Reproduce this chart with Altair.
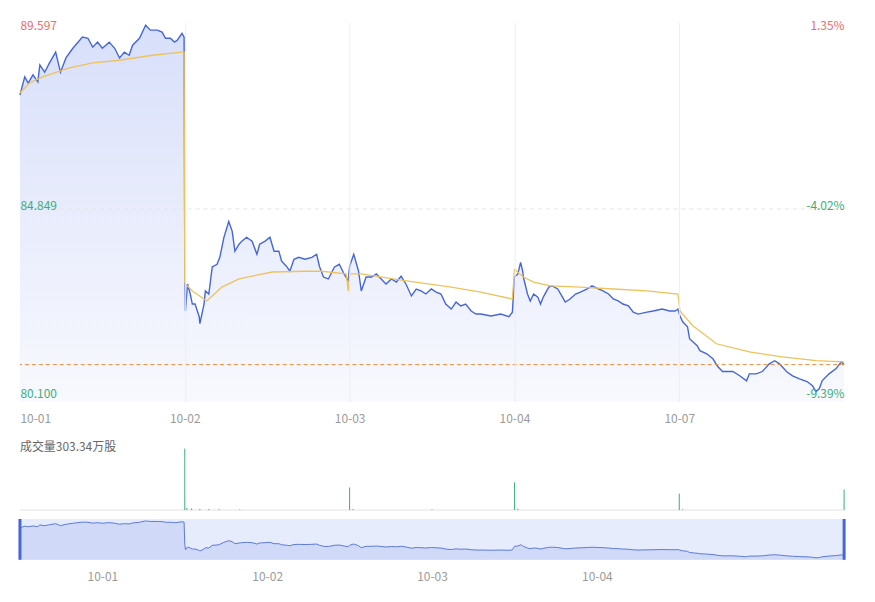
import json
import altair as alt
import pandas as pd

# ---------------- data ----------------
days = ["10-01", "10-02", "10-03", "10-04", "10-07"]
day_start = [0, 240, 480, 720, 960]
nav_days = ["10-01", "10-02", "10-03", "10-04"]
nav_ticks = [120, 360, 600, 840]
price_ticks = [80.100, 84.849, 89.597]
pct_labels = ["-9.39%", "-4.02%", "1.35%"]
pre_close = 88.40
volume_title = ["成交量303.34万股"]

price_t = [0, 7, 12, 19, 26, 29, 36, 43, 52, 59, 67, 77, 91, 99, 106, 113, 120, 130, 138, 145,
           152, 159, 164, 174, 183, 190, 200, 207, 212, 219, 225, 229, 236, 239,
           240, 241, 244, 248, 251, 255, 261, 262, 268, 270, 275, 280, 287, 291, 297, 304,
           309, 313, 319, 323, 330, 338, 345, 349, 357, 364, 370, 377, 381, 388, 393, 399,
           406, 415, 425, 432, 436, 442, 449, 458, 465, 472, 478,
           480, 486, 493, 497, 504, 512, 519, 526, 533, 541, 548, 555, 562, 570, 577, 584,
           591, 599, 606, 613, 620, 628, 635, 642, 649, 657, 664, 671, 686, 700, 712, 717,
           720, 725, 729, 732, 733, 739, 743, 748, 754, 758, 762, 770, 775, 783, 790, 794,
           801, 809, 816, 826, 833, 842, 849, 857, 864, 871, 878, 886, 893, 900, 913, 922,
           935, 946, 954, 958,
           961, 965, 972, 975, 986, 990, 1000, 1009, 1016, 1023, 1038, 1048, 1058, 1062,
           1072, 1081, 1091, 1099, 1106, 1116, 1125, 1135, 1146, 1154, 1159, 1164, 1168,
           1178, 1188, 1196, 1200]
price_v = [87.79, 88.26, 88.10, 88.31, 88.13, 88.57, 88.38, 88.62, 88.90, 88.38, 88.75, 89.00,
           89.29, 89.26, 89.03, 89.16, 89.00, 89.16, 89.00, 88.75, 88.90, 88.82, 89.08, 89.26,
           89.597, 89.47, 89.47, 89.42, 89.26, 89.26, 89.16, 89.21, 89.39, 89.29,
           83.61, 82.19, 82.89, 82.63, 82.37, 82.37, 82.04, 81.86, 82.37, 82.71, 82.63, 83.33,
           83.40, 83.58, 84.10, 84.51, 84.26, 83.74, 83.92, 84.00, 84.10, 84.00, 83.66, 83.92,
           84.00, 84.10, 83.74, 83.74, 83.48, 83.35, 83.22, 83.53, 83.58, 83.53, 83.58, 83.66,
           83.35, 83.07, 83.02, 83.33, 83.40, 83.15, 82.97,
           83.35, 83.66, 83.22, 82.71, 83.07, 83.07, 83.15, 83.02, 82.89, 83.02, 82.94, 83.09,
           82.89, 82.58, 82.76, 82.71, 82.63, 82.76, 82.68, 82.63, 82.37, 82.24, 82.42, 82.32,
           82.37, 82.19, 82.11, 82.11, 82.06, 82.11, 82.04, 82.16,
           83.07, 83.15, 83.45, 83.22, 83.07, 82.63, 82.45, 82.63, 82.55, 82.37, 82.55, 82.81,
           82.84, 82.76, 82.55, 82.42, 82.50, 82.63, 82.68, 82.76, 82.84, 82.76, 82.71, 82.63,
           82.50, 82.45, 82.37, 82.32, 82.16, 82.11, 82.16, 82.19, 82.24, 82.19, 82.19, 82.24,
           82.06, 81.91, 81.78, 81.47, 81.29, 81.16, 81.08, 80.95, 80.75, 80.62, 80.62, 80.51,
           80.38, 80.56, 80.56, 80.62, 80.82, 80.90, 80.82, 80.62, 80.51, 80.43, 80.36, 80.25,
           80.10, 80.18, 80.38, 80.56, 80.69, 80.87, 80.80]

avg_t = [0, 14, 33, 72, 106, 145, 193, 236, 239,
         240, 241, 251, 272, 283, 294, 319, 345, 367, 415, 439, 475, 478,
         480, 497, 555, 628, 671, 717,
         720, 733, 748, 772, 816, 864, 913, 958,
         961, 980, 990, 1014, 1062, 1110, 1159, 1200]
avg_v = [87.84, 88.10, 88.26, 88.49, 88.62, 88.69, 88.82, 88.90, 88.90,
         82.96, 82.89, 82.71, 82.45, 82.63, 82.81, 83.02, 83.12, 83.20, 83.22, 83.22, 83.15, 82.71,
         83.15, 83.15, 82.99, 82.81, 82.68, 82.50,
         83.27, 83.07, 82.94, 82.84, 82.81, 82.76, 82.71, 82.63,
         82.19, 81.80, 81.67, 81.34, 81.13, 81.00, 80.90, 80.87]

vol_t = [240, 243, 250, 262, 275, 290, 320, 480, 485, 600, 720, 725, 960, 965, 1200]
vol_v = [60, 2, 1.5, 1, 1, 0.8, 0.6, 22, 1, 0.6, 27, 1.2, 16, 0.8, 20]

nav_range = [0, 1200]

# ---------------- styling ----------------
FONT = "Noto Sans CJK SC"
RED = "#ef6a6a"
GREEN = "#3aae78"
BLUE = "#4466d9"
GOLD = "#eec25b"
GRAY = "#9a9a9a"

PRICE_DOMAIN = [79.842, 89.674]
NAV_DOMAIN = [79.6, 90.1]

price_df = pd.DataFrame({"t": price_t, "v": price_v})
avg_df = pd.DataFrame({"t": avg_t, "v": avg_v})
last_df = pd.DataFrame({"v": [price_v[-1]]})
vol_df = pd.DataFrame({"t": vol_t, "vol": vol_v})
base_df = pd.DataFrame({"vol": [0]})
title_df = pd.DataFrame({"label": volume_title})
range_df = pd.DataFrame({"t": [nav_range[0]], "end": [nav_range[1]]})
handle_df = pd.DataFrame({"t": nav_range})

hi_cut = (price_ticks[1] + price_ticks[2]) / 2
lo_cut = (price_ticks[0] + price_ticks[1]) / 2
color_expr = f"datum.value > {pre_close} ? '{RED}' : '{GREEN}'"
pct_expr = (f"datum.value > {hi_cut} ? '{pct_labels[2]}' : "
            f"datum.value > {lo_cut} ? '{pct_labels[1]}' : '{pct_labels[0]}'")
offset_expr = f"datum.value > {hi_cut} ? 0 : datum.value > {lo_cut} ? -3 : 2"

x_scale = alt.Scale(domain=[0, 1200], nice=False, zero=False)
price_scale = alt.Scale(domain=PRICE_DOMAIN, nice=False, zero=False)

x_main = alt.X(
    "t:Q", scale=x_scale,
    axis=alt.Axis(values=day_start, labelExpr=f"{json.dumps(days)}[round(datum.value / 240)]",
                  labelAlign={"expr": "datum.value == 0 ? 'left' : 'center'"},
                  ticks=False, domain=False, labelPadding=12, labelColor=GRAY,
                  labelFontSize=12, grid=True, gridColor="#eeeeee",
                  gridOpacity={"expr": "datum.value == 0 ? 0 : 1"}, title=None, zindex=1),
)
y_left = alt.Y(
    "v:Q", scale=price_scale,
    axis=alt.Axis(values=price_ticks, labelExpr="format(datum.value, '.3f')", orient="left",
                  labelAlign="left", labelBaseline="middle", labelPadding=0, ticks=False,
                  tickSize=0, domain=False, labelColor={"expr": color_expr}, labelFontSize=12,
                  labelOffset={"expr": offset_expr},
                  minExtent=0, grid=True, gridColor="#e6e6e6", gridDash=[4, 4],
                  gridOpacity={"expr": f"abs(datum.value - {price_ticks[1]}) < 0.01 ? 1 : 0"},
                  title=None, zindex=1),
)
y_right = alt.Y(
    "v:Q", scale=price_scale,
    axis=alt.Axis(values=price_ticks, labelExpr=pct_expr, orient="right", labelAlign="right",
                  labelBaseline="middle", labelPadding=0, ticks=False, tickSize=0, domain=False,
                  labelColor={"expr": color_expr}, labelFontSize=12, minExtent=0, grid=False,
                  labelOffset={"expr": offset_expr}, title=None, zindex=1),
)

gradient = alt.Gradient(
    gradient="linear",
    stops=[alt.GradientStop(color="#d8dffa", offset=0),
           alt.GradientStop(color="#f8f9fe", offset=1)],
    x1=1, x2=1, y1=0, y2=1,
)

area = alt.Chart(price_df).mark_area(fill=gradient).encode(
    x=x_main, y=y_left, y2=alt.datum(PRICE_DOMAIN[0]))
line = alt.Chart(price_df).mark_line(color=BLUE, strokeWidth=1.4).encode(x=x_main, y=y_left)
avg = alt.Chart(avg_df).mark_line(color=GOLD, strokeWidth=1.3).encode(x=x_main, y=y_left)
dash = alt.Chart(last_df).mark_rule(color="#f08a3c", strokeDash=[4, 3], strokeWidth=1).encode(y=y_left)
right = alt.Chart(price_df).mark_line(opacity=0).encode(x=x_main, y=y_right)

main = alt.layer(alt.layer(area, line, avg, dash), right).resolve_scale(y="independent").properties(
    width=828, height=381)

# volume panel
x_plain = alt.X("t:Q", scale=x_scale, axis=None)
vol_y = alt.Y("vol:Q", scale=alt.Scale(domain=[0, 68], nice=False), axis=None)
baseline = alt.Chart(base_df).mark_rule(color="#e2e2e2", strokeWidth=1).encode(y=vol_y)
bars = alt.Chart(vol_df).mark_rule(color=GREEN, strokeWidth=1).encode(x=x_plain, y=vol_y, y2=alt.datum(0))
vol_label = alt.Chart(title_df).mark_text(
    align="left", baseline="middle", fontSize=12, color="#666666", font=FONT
).encode(text="label:N", x=alt.value(0), y=alt.value(7))
vol = alt.layer(baseline, bars, vol_label).properties(width=828, height=70)

# navigator panel
x_nav = alt.X(
    "t:Q", scale=x_scale,
    axis=alt.Axis(values=nav_ticks, labelExpr=f"{json.dumps(nav_days)}[round((datum.value - 120) / 240)]",
                  ticks=False, domain=False, grid=False, labelPadding=12, labelColor=GRAY,
                  labelFontSize=12, title=None, zindex=1),
)
nav_y = alt.Y("v:Q", scale=alt.Scale(domain=NAV_DOMAIN, nice=False, zero=False), axis=None)
nav_rect = alt.Chart(range_df).mark_rect(color="#e7ecfc").encode(x=x_nav, x2="end:Q")
nav_area = alt.Chart(price_df).mark_area(color="#d0daf8").encode(
    x=x_nav, y=nav_y, y2=alt.datum(NAV_DOMAIN[0]))
nav_line = alt.Chart(price_df).mark_line(color="#5b79d9", strokeWidth=1).encode(x=x_nav, y=nav_y)
handles = alt.Chart(handle_df).mark_rule(color=BLUE, strokeWidth=3).encode(x=x_nav)
nav = alt.layer(nav_rect, nav_area, nav_line, handles).properties(width=828, height=41)

chart = alt.vconcat(
    main,
    alt.vconcat(vol, nav, spacing=9, bounds="flush"),
    spacing=39, bounds="flush",
).properties(
    padding={"left": 9, "top": 9, "right": 20, "bottom": 12},
    background="white",
).configure(font=FONT).configure_view(strokeWidth=0)

chart.save("out.html", embed_options={"renderer": "svg", "actions": False})
